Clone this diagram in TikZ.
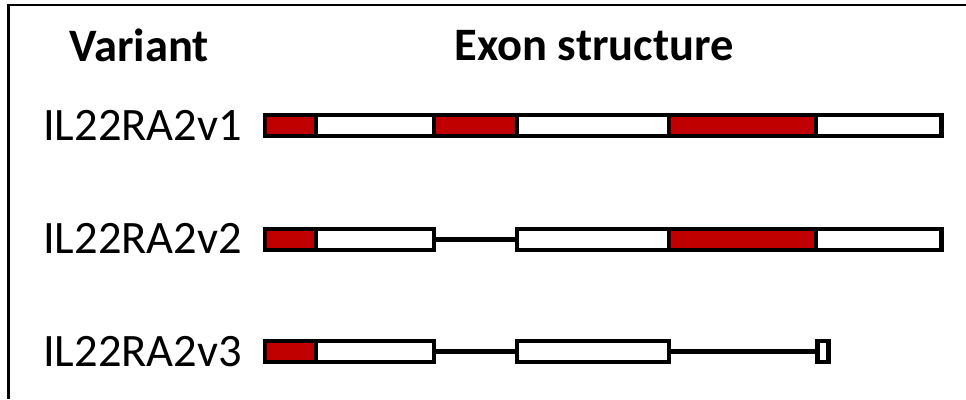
\documentclass[tikz,border=0pt]{standalone}
\usepackage{fontspec}
\setmainfont{Carlito}
\definecolor{exonred}{HTML}{C00000}
\tikzset{
  seg/.style={draw=black, line width=4.2pt, inner sep=0pt, outer sep=0pt, minimum height=21.5pt, anchor=west},
  redseg/.style={seg, fill=exonred},
  whiteseg/.style={seg, fill=white},
  intron/.style={draw=black, line width=4.4pt},
  lbl/.style={font=\fontsize{46.5}{56}\selectfont, anchor=base west, inner sep=0pt},
  hdr/.style={font=\fontsize{46.5}{56}\bfseries\selectfont, anchor=base, inner sep=0pt}
}
\begin{document}
\begin{tikzpicture}[x=1pt,y=-1pt]
\useasboundingbox (0,0) rectangle (966,399);
\fill[white] (0,0) rectangle (966,399);
\draw[line width=2.2pt] (8.5,399) -- (8.5,5) -- (966,5);
\node[hdr] (hvar) at (139,61) {Variant};
\node[hdr] (hexon) at (594,60) {Exon structure};
% row 1
\node[lbl] (l1) at (43,140) {IL22RA2v1};
\node[redseg, minimum width=51.5pt] (a1) at (265,125.5) {};
\node[whiteseg, minimum width=118pt] (a2) at (316,125.5) {};
\node[redseg, minimum width=83pt] (a3) at (434,125.5) {};
\node[whiteseg, minimum width=152pt] (a4) at (517,125.5) {};
\node[redseg, minimum width=147pt] (a5) at (669,125.5) {};
\node[whiteseg, minimum width=125.5pt] (a6) at (816,125.5) {};
% row 2
\node[lbl] (l2) at (43,253.5) {IL22RA2v2};
\node[redseg, minimum width=51.5pt] (b1) at (265,239.5) {};
\node[whiteseg, minimum width=118pt] (b2) at (316,239.5) {};
\node[whiteseg, minimum width=152pt] (b4) at (517,239.5) {};
\node[redseg, minimum width=147pt] (b5) at (669,239.5) {};
\node[whiteseg, minimum width=125.5pt] (b6) at (816,239.5) {};
\draw[intron] (b2.east) -- (b4.west);
% row 3
\node[lbl] (l3) at (43,366.5) {IL22RA2v3};
\node[redseg, minimum width=51.5pt] (c1) at (265,351.5) {};
\node[whiteseg, minimum width=118pt] (c2) at (316,351.5) {};
\node[whiteseg, minimum width=152pt] (c4) at (517,351.5) {};
\node[whiteseg, minimum width=11pt] (c6) at (817.5,351.5) {};
\draw[intron] (c2.east) -- (c4.west);
\draw[intron] (c4.east) -- (c6.west);
\end{tikzpicture}
\end{document}
